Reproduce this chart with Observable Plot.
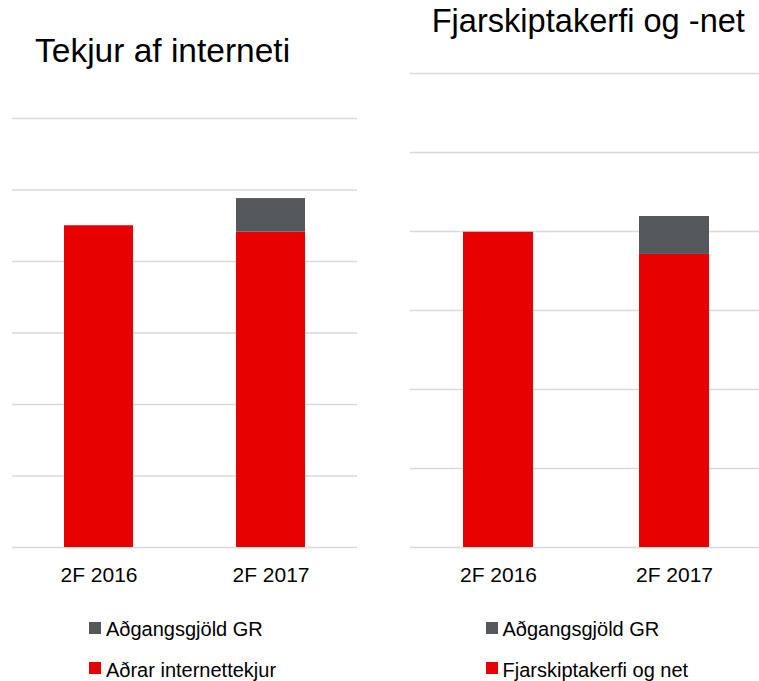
<!DOCTYPE html>
<html>
<head>
<meta charset="utf-8">
<script src="https://cdn.jsdelivr.net/npm/d3@7"></script>
<script src="https://cdn.jsdelivr.net/npm/@observablehq/plot@0.6"></script>
<style>
  html, body { margin: 0; padding: 0; background: #fff; }
  body { width: 759px; height: 681px; position: relative; overflow: hidden;
         font-family: "Liberation Sans", Arial, sans-serif; color: #000; }
  .title { position: absolute; font-size: 32.6px; line-height: 32.6px; white-space: nowrap; }
  .panel { position: absolute; top: 0; }
  .leg { position: absolute; font-size: 20px; line-height: 20px; white-space: nowrap; }
  .leg .sw { position: absolute; width: 12px; height: 12px; top: 2.7px; }
  .leg .lbl { position: absolute; }
</style>
</head>
<body>
<div class="title" id="t1" style="left:35px; top:33.6px; font-size:33.5px; line-height:33.5px;"></div>
<div class="title" id="t2" style="left:431.7px; top:5.4px;"></div>
<div class="panel" id="p1" style="left:0px;"></div>
<div class="panel" id="p2" style="left:380px;"></div>
<div id="legends"></div>
<script>
// ---- data ----
const periods = ["2F 2016", "2F 2017"];
const titleLeft = "Tekjur af interneti";
const titleRight = "Fjarskiptakerfi og -net";
const seriesGR = "Aðgangsgjöld GR";
const seriesLeftOther = "Aðrar internettekjur";
const seriesRightNet = "Fjarskiptakerfi og net";
const leftOtherValues = [4.50, 4.41];
const leftGRValues = [0, 0.47];
const rightNetValues = [3.99, 3.71];
const rightGRValues = [0, 0.48];
const gridTicks = [0, 1, 2, 3, 4, 5, 6];

const RED = "#e60000";
const GRAY = "#54585a";
const GRID = "#d9d9d9";

function rows(baseName, baseVals, topName, topVals) {
  const out = [];
  periods.forEach((p, i) => {
    out.push({period: p, series: baseName, value: baseVals[i]});
    out.push({period: p, series: topName, value: topVals[i]});
  });
  return out;
}

function panel(data, baseName, topName, opts) {
  return Plot.plot({
    width: opts.width,
    height: 600,
    marginTop: opts.marginTop,
    marginBottom: 53,
    marginLeft: opts.marginLeft,
    marginRight: opts.marginRight,
    style: {fontFamily: '"Liberation Sans", Arial, sans-serif', fontSize: "21px", color: "#000", background: "transparent"},
    x: {domain: periods, paddingInner: 0.6, paddingOuter: opts.po, align: opts.align, label: null},
    y: {domain: [0, 6], axis: null},
    color: {domain: [baseName, topName], range: [RED, GRAY]},
    marks: [
      Plot.ruleY(gridTicks, {stroke: GRID, strokeWidth: 1.6}),
      Plot.barY(data, {x: "period", y: "value", fill: "series", order: [baseName, topName]}),
      Plot.axisX({tickSize: 0, tickPadding: 20, fontSize: 21, label: null, fill: "#000"})
    ]
  });
}

document.getElementById("t1").textContent = titleLeft;
document.getElementById("t2").textContent = titleRight;

document.getElementById("p1").appendChild(
  panel(rows(seriesLeftOther, leftOtherValues, seriesGR, leftGRValues), seriesLeftOther, seriesGR,
        {width: 380, marginTop: 118, marginLeft: 12, marginRight: 23, po: 0.3, align: 0.5}));
document.getElementById("p2").appendChild(
  panel(rows(seriesRightNet, rightNetValues, seriesGR, rightGRValues), seriesRightNet, seriesGR,
        {width: 379, marginTop: 73, marginLeft: 30, marginRight: 0, po: 0.29, align: 0.52}));

// ---- legends ----
const legendItems = [
  {x: 89, y: 619, name: seriesGR, color: GRAY},
  {x: 89, y: 659.8, name: seriesLeftOther, color: RED},
  {x: 485.5, y: 619, name: seriesGR, color: GRAY},
  {x: 485.5, y: 659.8, name: seriesRightNet, color: RED}
];
const legRoot = document.getElementById("legends");
legendItems.forEach(it => {
  const d = document.createElement("div");
  d.className = "leg";
  d.style.left = it.x + "px";
  d.style.top = it.y + "px";
  const sw = document.createElement("span");
  sw.className = "sw";
  sw.style.left = "0px";
  sw.style.background = it.color;
  const lb = document.createElement("span");
  lb.className = "lbl";
  lb.style.left = "17px";
  lb.textContent = it.name;
  d.appendChild(sw); d.appendChild(lb);
  legRoot.appendChild(d);
});
</script>
</body>
</html>
